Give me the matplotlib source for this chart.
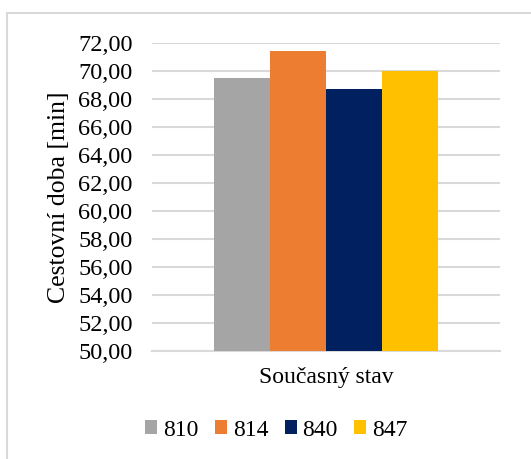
import matplotlib.pyplot as plt
import matplotlib.patches as mpatches
import numpy as np

plt.rcParams['font.family'] = ['Liberation Serif', 'DejaVu Serif']

# travel times per line
lines = ['810', '814', '840', '847']
times = [69.52, 71.45, 68.73, 70.02]
colors = ['#a5a5a5', '#ed7d31', '#002060', '#ffc000']
category = 'Současný stav'
yticks = np.arange(50, 73, 2)

fig = plt.figure(figsize=(5.31, 4.59), dpi=100)
ax = fig.add_axes([152/531, 1 - 350.7/459, 348/531, 307.4/459])

w = 0.1616
offsets = (np.arange(len(lines)) - 1.5) * w
for off, t, c, name in zip(offsets, times, colors, lines):
    ax.bar(off, t - 50, width=w, bottom=50, color=c, label=name, zorder=3)

ax.set_xlim(-0.5, 0.5)
ax.set_ylim(50, 72)
ax.set_yticks(yticks)
ax.set_yticklabels(['%d,00' % v for v in yticks], fontsize=17.5)
ax.set_xticks([0])
ax.set_xticklabels([category], fontsize=17)
ax.tick_params(axis='both', length=0)
ax.tick_params(axis='y', pad=14)
ax.tick_params(axis='x', pad=12)
ax.grid(axis='y', color='#d9d9d9', linewidth=1.5, zorder=0)
for s in ['top', 'right', 'left']:
    ax.spines[s].set_visible(False)
ax.spines['bottom'].set_color('#d9d9d9')
ax.spines['bottom'].set_linewidth(1.5)
ax.set_ylabel('Cestovní doba [min]', fontsize=18.5)
ax.yaxis.set_label_coords(-0.236, 0.5)

fig.legend(loc='center', bbox_to_anchor=(276.5/531, 1 - 430/459), ncol=4,
           frameon=False, fontsize=17, handlelength=0.5, handleheight=0.5,
           handletextpad=0.25, columnspacing=0.7)

# outer chart frame
fig.patches.append(mpatches.Rectangle((7/531, -0.1), 1.2, 1 - 13/459 + 0.1,
                                      transform=fig.transFigure, fill=False,
                                      edgecolor='#d9d9d9', linewidth=1.5))

fig.savefig('out.png', dpi=100)
